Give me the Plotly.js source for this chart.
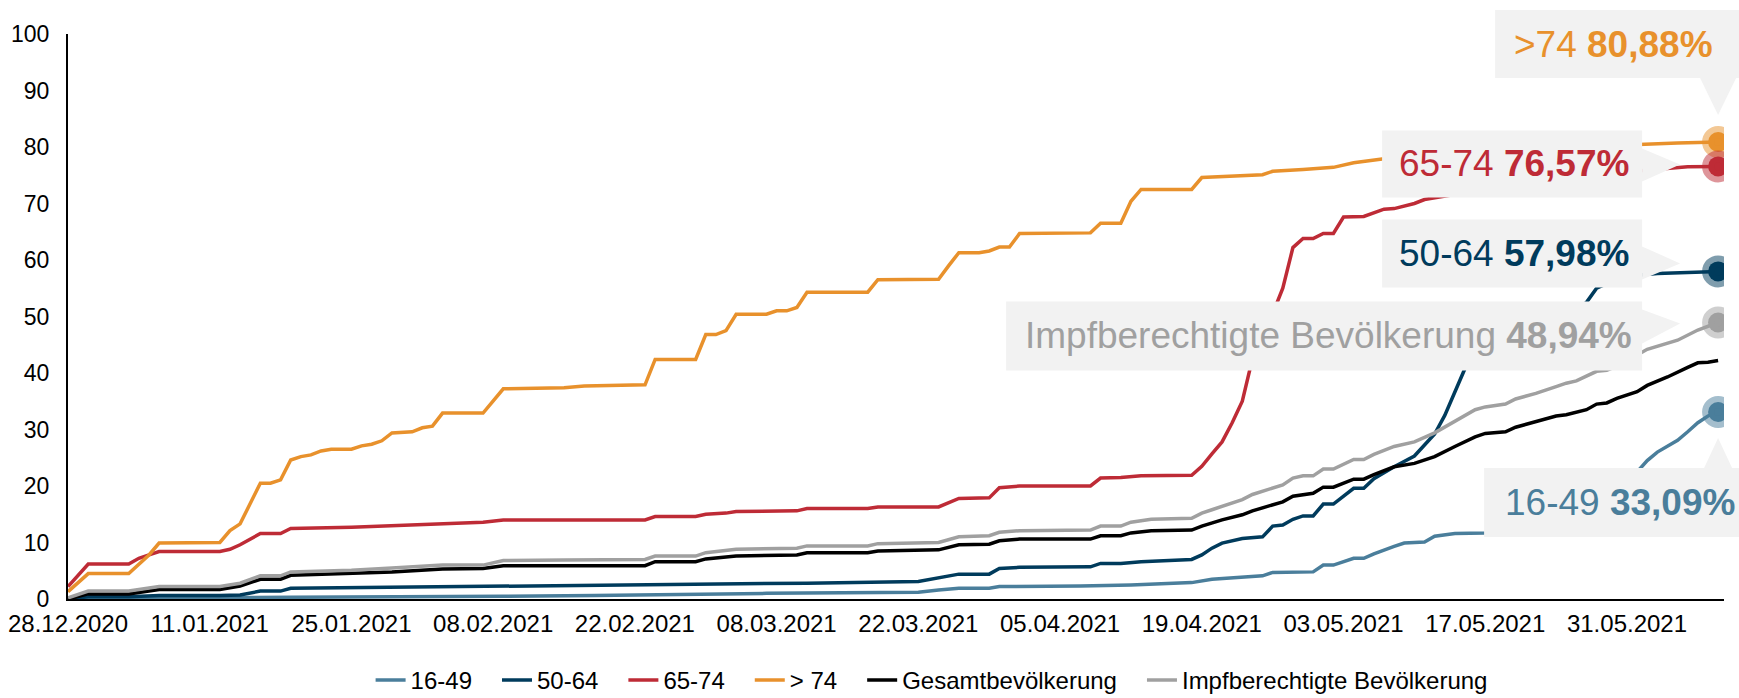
<!DOCTYPE html>
<html>
<head>
<meta charset="utf-8">
<script src="https://cdn.plot.ly/plotly-3.0.1.min.js"></script>
<style>
html,body{margin:0;padding:0;background:#ffffff;}
#chart{width:1739px;height:698px;}
</style>
</head>
<body>
<div id="chart"></div>
<script>
// ---------------- data (day offsets from 28.12.2020, values in %) ----------------
const startDate = '2020-12-28';
const seriesNames = ['16-49', '50-64', '65-74', '> 74', 'Gesamtbevölkerung', 'Impfberechtigte Bevölkerung'];
const calloutNames = ['16-49', '50-64', '65-74', '&gt;74', null, 'Impfberechtigte Bevölkerung'];
const seriesColors = ['#4a7e9b', '#003b5c', '#be2b36', '#e8912c', '#000000', '#a0a0a0'];
const haloColors = ['rgba(74,126,155,0.5)', 'rgba(0,59,92,0.5)', 'rgba(190,43,54,0.5)', 'rgba(232,145,44,0.5)', null, 'rgba(160,160,160,0.5)'];

const days16_49 = [0,6,17,22,43,52,69,84,86,88,91,92,100,105,111,113,118,119,123,124,125,127,128,129,131,132,134,135,137,140,143,146,149,152,155,156,157,159,160,161,162,163];
const vals16_49 = [0,0.1,0.2,0.3,0.5,0.6,1.0,1.2,1.6,1.9,1.9,2.2,2.3,2.5,2.9,3.5,4.1,4.7,4.8,6.0,6.0,7.2,7.2,8.0,9.3,9.9,10.1,11.1,11.6,11.7,12.3,14.0,16.5,19.2,22.5,24.5,26.0,28.1,29.6,31.2,32.4,33.09];

const days50_64 = [0,2,6,9,15,17,19,21,22,33,41,43,49,57,66,73,84,86,88,91,92,94,101,102,104,106,111,112,113,114,116,118,119,120,121,122,123,124,125,127,128,129,131,133,134,135,136,137,138,140,142,144,146,148,150,151,153,155,157,160,163];
const vals50_64 = [0,0.4,0.4,0.6,0.6,0.7,1.4,1.4,1.9,2.1,2.2,2.3,2.3,2.4,2.6,2.8,3.1,3.7,4.4,4.4,5.4,5.6,5.7,6.3,6.3,6.6,7.0,7.8,9.0,9.9,10.7,11.0,12.9,13.1,14.1,14.7,14.7,16.8,16.8,19.6,19.6,21.3,23.4,25.3,27.2,29.2,32.5,36.8,40.8,43.5,45.5,47.2,48.8,50.3,52.5,55.0,56.6,57.3,57.6,57.8,57.98];

const days65_74 = [0,2,6,7,8,9,15,16,17,18,19,21,22,28,32,37,41,43,57,58,62,63,65,66,72,73,79,80,86,88,91,92,94,101,102,104,106,111,112,113,114,115,116,117,118,119,120,121,122,123,124,125,126,128,130,131,133,134,135,140,145,150,155,158,160,163];
const vals65_74 = [2.2,6.2,6.2,7.2,7.8,8.4,8.4,8.8,9.6,10.6,11.6,11.6,12.5,12.7,13.0,13.4,13.6,14.0,14.0,14.6,14.6,15.0,15.2,15.5,15.6,16.0,16.0,16.3,16.3,17.8,17.9,19.7,20.0,20.0,21.4,21.5,21.8,21.9,23.5,25.7,27.8,31.2,35.0,42.5,47.0,50.5,55.0,62.2,63.8,63.8,64.7,64.7,67.6,67.7,69.0,69.1,70.0,70.7,71.0,72.6,74.0,75.0,75.8,76.2,76.5,76.57];

const daysOver74 = [0,2,6,8,9,15,16,17,19,20,21,22,23,24,25,26,28,29,30,31,32,34,35,36,37,41,43,49,51,57,58,62,63,64,65,66,69,70,71,72,73,79,80,86,87,88,90,91,92,93,94,101,102,104,105,106,111,112,118,119,122,125,127,128,130,135,140,145,150,155,159,163];
const valsOver74 = [1.3,4.5,4.5,7.8,9.9,10.0,12.1,13.3,20.5,20.5,21.1,24.6,25.2,25.5,26.2,26.5,26.5,27.1,27.4,28.0,29.4,29.6,30.3,30.6,32.9,32.9,37.2,37.4,37.7,37.9,42.4,42.4,46.8,46.8,47.5,50.4,50.4,51.0,51.0,51.6,54.3,54.3,56.5,56.6,59.0,61.3,61.3,61.6,62.3,62.3,64.7,64.8,66.5,66.5,70.4,72.5,72.5,74.6,75.1,75.7,76.0,76.4,77.2,77.4,77.9,78.5,79.1,79.6,80.1,80.5,80.7,80.88];

const daysTotal = [0,2,6,9,15,17,19,21,22,28,32,37,41,43,57,58,62,63,65,66,72,73,79,80,86,88,91,92,94,101,102,104,105,107,111,112,114,116,117,119,120,121,123,124,125,127,128,129,131,133,135,137,139,140,142,143,145,147,148,150,151,152,153,155,156,158,160,161,162,163];
const valsTotal = [0,0.9,0.9,1.7,1.7,2.3,3.5,3.5,4.2,4.5,4.8,5.3,5.4,5.9,5.9,6.6,6.6,7.1,7.4,7.6,7.8,8.2,8.2,8.5,8.7,9.6,9.7,10.3,10.6,10.6,11.2,11.2,11.7,12.1,12.2,12.9,14.0,14.9,15.6,16.6,17.2,18.2,18.7,19.8,19.8,21.2,21.2,22.0,23.4,24.0,25.2,27.0,28.7,29.3,29.6,30.4,31.4,32.4,32.6,33.5,34.5,34.7,35.5,36.7,37.8,39.3,41.0,41.8,41.9,42.2];

const daysEligible = [0,2,6,9,15,17,19,21,22,28,32,37,41,43,49,57,58,62,63,65,66,72,73,79,80,86,88,91,92,94,101,102,104,105,107,111,112,113,115,116,117,119,120,121,122,123,124,125,127,128,129,131,133,135,137,139,140,141,142,143,145,147,148,149,151,152,153,155,156,159,160,161,163];
const valsEligible = [0.2,1.4,1.4,2.2,2.2,2.8,4.1,4.1,4.8,5.1,5.5,6.0,6.0,6.8,6.9,7.0,7.6,7.6,8.2,8.5,8.8,9.0,9.4,9.4,9.8,10.0,11.0,11.2,11.8,12.1,12.2,12.9,12.9,13.6,14.1,14.3,15.2,15.8,17.0,17.6,18.5,19.6,20.2,21.4,21.8,21.8,23.0,23.0,24.7,24.7,25.6,27.0,27.8,29.4,31.4,33.5,34.0,34.2,34.5,35.4,36.4,37.6,38.2,38.6,40.3,40.5,41.2,43.2,44.2,45.8,46.7,47.6,48.94];

const axisEnd = '2021-06-09 14:00';
const tickStep = 14; // days between tick labels

// ---------------- helpers ----------------
function toDate(d) {
  const base = Date.parse(startDate + 'T00:00:00Z');
  return new Date(base + d * 86400000).toISOString().slice(0, 10);
}
const allDays = [days16_49, days50_64, days65_74, daysOver74, daysTotal, daysEligible];
const allVals = [vals16_49, vals50_64, vals65_74, valsOver74, valsTotal, valsEligible];
const FONT = 'Liberation Sans, Arial, sans-serif';
const PAD = '\u00a0\u00a0\u00a0';

const traces = [];
allDays.forEach((days, i) => {
  traces.push({
    type: 'scatter', mode: 'lines',
    name: seriesNames[i] + (i < seriesNames.length - 1 ? PAD : ''),
    x: days.map(toDate), y: allVals[i],
    line: {color: seriesColors[i], width: 3.5},
    hoverinfo: 'skip'
  });
});
// end markers with halo
[5, 0, 1, 3, 2].forEach(i => {
  const days = allDays[i], vals = allVals[i];
  traces.push({
    type: 'scatter', mode: 'markers', showlegend: false,
    x: [toDate(days[days.length - 1])], y: [vals[vals.length - 1]],
    marker: {size: 20, color: seriesColors[i], line: {color: haloColors[i], width: 12}},
    hoverinfo: 'skip'
  });
});

// callout geometry (pixel offsets from the end marker; dx to the right, up positive)
const callouts = [
  {idx: 3, box: [-223, 30, 132, 64], tri: [[-18, 64], [18, 64], [0, 27]], textDx: -204, textUp: 98},
  {idx: 2, box: [-336, -76, 36, -31], tri: [[-76, 18], [-76, -15], [-38, 2]], textDx: -319, textUp: 2.5},
  {idx: 1, box: [-336, -76, 52, -16], tri: [[-76, 25], [-76, -8], [-38, 8]], textDx: -319, textUp: 18},
  {idx: 5, box: [-712, -76, 21, -48], tri: [[-76, 13], [-76, -21], [-38, -1]], textDx: -693, textUp: -13.5},
  {idx: 0, box: [-234, 30, -56, -125], tri: [[-14, -56], [14, -56], [0, -26]], textDx: -213, textUp: -90}
];

const annotations = callouts.map(c => {
  const days = allDays[c.idx], vals = allVals[c.idx];
  const last = vals[vals.length - 1];
  const valStr = last.toFixed(2).replace('.', ',') + '%';
  return {
    xref: 'x', yref: 'y', x: toDate(days[days.length - 1]), y: last,
    xanchor: 'left', yanchor: 'middle', xshift: c.textDx, yshift: c.textUp,
    showarrow: false, borderpad: 0, borderwidth: 0,
    text: calloutNames[c.idx] + ' <b>' + valStr + '</b>',
    font: {family: FONT, size: 37, color: seriesColors[c.idx]}
  };
});

const layout = {
  width: 1739, height: 698,
  margin: {l: 68, r: 15, t: 34, b: 99, pad: 0, autoexpand: false},
  paper_bgcolor: '#ffffff', plot_bgcolor: '#ffffff',
  font: {family: FONT, size: 23, color: '#000000'},
  showlegend: true,
  legend: {
    orientation: 'h', x: 0.5215, xanchor: 'center', y: -0.1841, yanchor: 'bottom',
    font: {family: FONT, size: 24, color: '#000000'}, traceorder: 'normal',
    bgcolor: 'rgba(0,0,0,0)'
  },
  xaxis: {
    type: 'date', range: [startDate, axisEnd],
    tick0: startDate, dtick: tickStep * 86400000, tickformat: '%d.%m.%Y',
    showgrid: false, zeroline: false, showline: true, linecolor: '#000000', linewidth: 2,
    ticks: '', ticklabelstandoff: 2, tickfont: {family: FONT, size: 24, color: '#000000'},
    fixedrange: true
  },
  yaxis: {
    range: [0, 100], tick0: 0, dtick: 10,
    showgrid: false, zeroline: false, showline: true, linecolor: '#000000', linewidth: 2,
    ticks: '', ticklabelstandoff: 12, tickfont: {family: FONT, size: 23, color: '#000000'},
    fixedrange: true
  },
  annotations: annotations
};

Plotly.newPlot('chart', traces, layout, {staticPlot: true, displayModeBar: false}).then(gd => {
  const fl = gd._fullLayout, xa = fl.xaxis, ya = fl.yaxis;
  const shapes = [];
  callouts.forEach(c => {
    const days = allDays[c.idx], vals = allVals[c.idx];
    const px = xa.c2p(xa.d2c(toDate(days[days.length - 1])));
    const py = ya.c2p(vals[vals.length - 1]);
    const fx = dx => (px + dx) / xa._length;
    const fy = up => (ya._length - (py - up)) / ya._length;
    shapes.push({
      type: 'rect', xref: 'paper', yref: 'paper', layer: 'above',
      x0: fx(c.box[0]), x1: fx(c.box[1]), y0: fy(c.box[2]), y1: fy(c.box[3]),
      fillcolor: '#f2f2f2', line: {width: 0}
    });
    const p = c.tri.map((pt, k) => (k === 0 ? 'M' : 'L') + fx(pt[0]) + ',' + fy(pt[1])).join(' ') + ' Z';
    shapes.push({
      type: 'path', xref: 'paper', yref: 'paper', layer: 'above',
      path: p, fillcolor: '#f2f2f2', line: {width: 0}
    });
  });
  return Plotly.relayout(gd, {shapes: shapes});
});
</script>
</body>
</html>
